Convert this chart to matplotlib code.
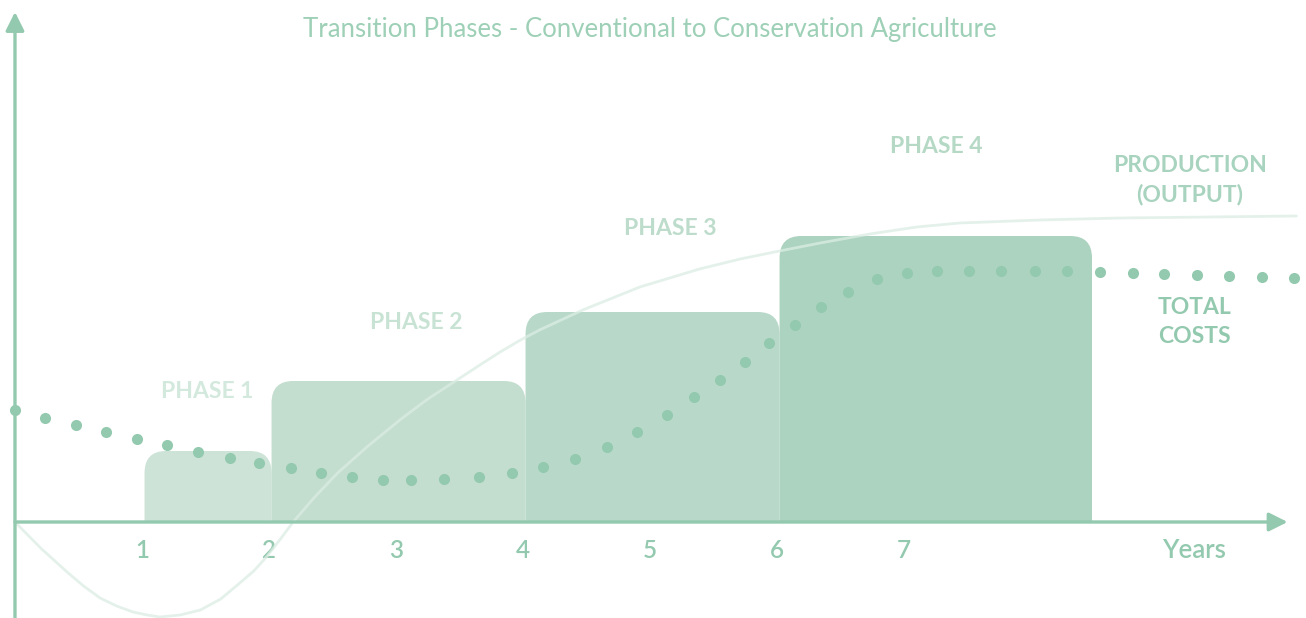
import matplotlib
matplotlib.use("Agg")
import matplotlib.pyplot as plt
from matplotlib.path import Path
from matplotlib.patches import PathPatch

plt.rcParams['font.family'] = ['Lato', 'DejaVu Sans']

# phases (years on x, arbitrary units on y)
phase_labels = ["PHASE 1", "PHASE 2", "PHASE 3", "PHASE 4"]
phase_start = [1.02, 2.02, 4.02, 6.02]
phase_end = [2.02, 4.02, 6.02, 8.48]
phase_height = [0.71, 1.41, 2.10, 2.86]
phase_colors = ["#cde3d7", "#c3ddcf", "#b8d9c9", "#acd3bf"]
phase_text_colors = ["#d3e9dd", "#c8e3d4", "#bddccb", "#b5d9c5"]
label_x = [1.51, 3.16, 5.16, 7.25]
label_y = [1.30, 1.99, 2.93, 3.75]

# total costs (dotted)
cost_x = [0.0, 0.24, 0.48, 0.72, 0.96, 1.2, 1.44, 1.69, 1.92, 2.17, 2.41, 2.65,
          2.9, 3.12, 3.38, 3.65, 3.91, 4.16, 4.41, 4.66, 4.9, 5.13, 5.35, 5.55,
          5.75, 5.94, 6.14, 6.35, 6.56, 6.79, 7.02, 7.26, 7.51, 7.76, 8.03,
          8.28, 8.54, 8.8, 9.05, 9.31, 9.56, 9.82, 10.07]
cost_y = [1.12, 1.04, 0.97, 0.9, 0.83, 0.77, 0.7, 0.64, 0.59, 0.54, 0.49, 0.45,
          0.42, 0.42, 0.43, 0.45, 0.49, 0.55, 0.63, 0.75, 0.9, 1.07, 1.25, 1.42,
          1.6, 1.79, 1.97, 2.15, 2.3, 2.43, 2.49, 2.51, 2.51, 2.51, 2.51,
          2.51, 2.5, 2.49, 2.48, 2.47, 2.46, 2.45, 2.44]

# production (output) curve
prod_x = [0.0, 0.07, 0.14, 0.21, 0.28, 0.41, 0.54, 0.67, 0.8, 0.93, 1.04, 1.14,
          1.3, 1.46, 1.62, 1.77, 1.88, 1.98, 2.09, 2.19, 2.36, 2.54, 2.78, 3.03,
          3.25, 3.48, 3.66, 3.82, 3.98, 4.13, 4.47, 4.92, 5.39, 5.71, 6.02,
          6.34, 6.73, 7.1, 7.44, 8.07, 8.7, 9.4, 10.09]
prod_y = [0.0, -0.09, -0.18, -0.27, -0.35, -0.5, -0.64, -0.76, -0.84, -0.9,
          -0.93, -0.95, -0.93, -0.88, -0.77, -0.61, -0.49, -0.35, -0.17, 0.0,
          0.25, 0.49, 0.76, 1.02, 1.23, 1.42, 1.57, 1.7, 1.82, 1.92, 2.12, 2.35,
          2.53, 2.63, 2.71, 2.79, 2.88, 2.95, 2.99, 3.02, 3.04, 3.05, 3.06]

tick_years = [1, 2, 3, 4, 5, 6, 7]

axis_color = "#93c9ae"

fig = plt.figure(figsize=(13.06, 6.18), dpi=100)
ax = fig.add_axes([0, 0, 1, 1])
ax.set_xlim(-0.118, 10.165)
ax.set_ylim(-0.96, 5.22)
ax.axis("off")

# rounded-top boxes for the phases
rx, ry = 0.17, 0.22
for x0, x1, h, c in zip(phase_start, phase_end, phase_height, phase_colors):
    verts = [(x0, 0), (x0, h - ry), (x0, h), (x0 + rx, h), (x1 - rx, h),
             (x1, h), (x1, h - ry), (x1, 0), (x0, 0)]
    codes = [Path.MOVETO, Path.LINETO, Path.CURVE3, Path.CURVE3, Path.LINETO,
             Path.CURVE3, Path.CURVE3, Path.LINETO, Path.CLOSEPOLY]
    ax.add_patch(PathPatch(Path(verts, codes), facecolor=c, edgecolor="none", zorder=2))

ax.plot(cost_x, cost_y, linestyle="none", marker="o", markersize=8,
        color="#93c9ae", markeredgewidth=0, zorder=3)
ax.plot(prod_x, prod_y, color="#dcede4", lw=2.0, alpha=0.75, zorder=4,
        solid_capstyle="round", solid_joinstyle="round")

# axes with arrows
ax.annotate("", xy=(10.02, 0), xytext=(0, 0), zorder=5,
            arrowprops=dict(arrowstyle="-|>", color=axis_color, lw=2.4,
                            mutation_scale=28, shrinkA=0, shrinkB=0))
ax.annotate("", xy=(0, 5.1), xytext=(0, -0.96), zorder=5,
            arrowprops=dict(arrowstyle="-|>", color=axis_color, lw=2.4,
                            mutation_scale=28, shrinkA=0, shrinkB=0))

for t in tick_years:
    ax.text(t, -0.29, str(t), ha="center", va="center", fontsize=17.5,
            color=axis_color, fontweight="semibold")
ax.text(9.28, -0.28, "Years", ha="center", va="center", fontsize=18.5,
        color=axis_color, fontweight="semibold")

for lbl, lx, ly, c in zip(phase_labels, label_x, label_y, phase_text_colors):
    ax.text(lx, ly, lbl, ha="center", va="center", fontsize=16.5,
            color=c, fontweight="bold")

ax.text(9.25, 3.42, "PRODUCTION\n(OUTPUT)", ha="center", va="center", fontsize=16.5,
        color="#a8d3be", fontweight="bold", linespacing=1.45)
ax.text(9.0, 2.0, "TOTAL\nCOSTS", ha="left", va="center", fontsize=16.5,
        color=axis_color, fontweight="bold", linespacing=1.45)

ax.text(5.0, 4.92, "Transition Phases - Conventional to Conservation Agriculture",
        ha="center", va="center", fontsize=18.5, color="#9dd0b6")

fig.savefig("out.png", dpi=100)
